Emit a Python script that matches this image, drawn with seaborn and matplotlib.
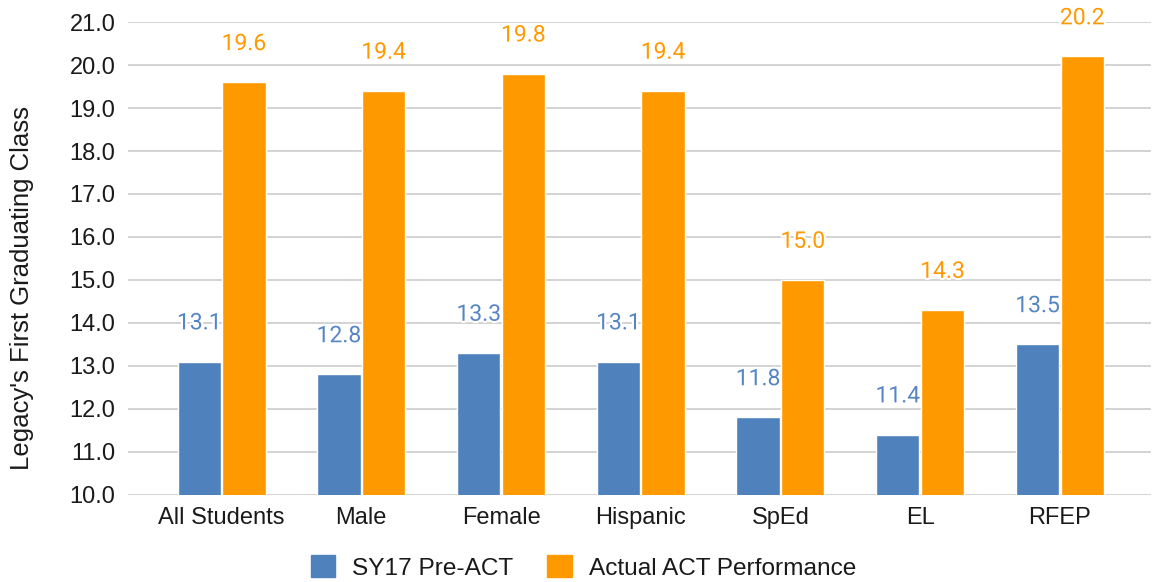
import matplotlib.pyplot as plt
import matplotlib.patheffects as pe
import pandas as pd
import seaborn as sns

# data
groups = ["All Students", "Male", "Female", "Hispanic", "SpEd", "EL", "RFEP"]
pre_act = [13.1, 12.8, 13.3, 13.1, 11.8, 11.4, 13.5]
actual_act = [19.6, 19.4, 19.8, 19.4, 15.0, 14.3, 20.2]
series = ["SY17 Pre-ACT", "Actual ACT Performance"]
colors = ["#4f81bd", "#ff9900"]

df = pd.DataFrame({
    "group": groups * 2,
    "score": pre_act + actual_act,
    "series": [series[0]] * len(groups) + [series[1]] * len(groups),
})

sns.set_theme(style="white")
plt.rcParams["font.family"] = ["Liberation Sans", "DejaVu Sans"]

fig, ax = plt.subplots(figsize=(11.53, 5.82), dpi=100)
fig.subplots_adjust(left=0.111, right=0.998, top=0.962, bottom=0.15)

sns.barplot(data=df, x="group", y="score", hue="series", palette=colors,
            width=0.64, gap=0.03, errorbar=None, saturation=1, ax=ax, legend=False)

ax.set_ylim(10, 21)
ax.set_xlim(-0.67, 6.65)
ax.set_yticks(range(10, 22))
ax.set_yticklabels([f"{v:.1f}" for v in range(10, 22)], fontsize=17, color="#1a1a1a")
ax.tick_params(axis="x", labelsize=17, colors="#1a1a1a", length=0, pad=9)
ax.tick_params(axis="y", length=0, pad=9)
ax.grid(axis="y", color="#cccccc", linewidth=1.2)
ax.set_axisbelow(True)
for s in ax.spines.values():
    s.set_visible(False)
ax.set_xlabel("")
ax.set_ylabel("")
fig.text(0.019, 0.505, "Legacy's First Graduating Class", rotation=90,
         ha="center", va="center", fontsize=18.5, color="#1a1a1a")

# value labels above bars
label_colors = ["#5585c5", "#ff9900"]
for container, col in zip(ax.containers, label_colors):
    for bar in container:
        h = bar.get_height()
        ax.text(bar.get_x() + bar.get_width() / 2, h + 0.9, f"{h:.1f}",
                ha="center", va="center", fontsize=16.5, color=col,
                family=["Roboto", "DejaVu Sans"],
                path_effects=[pe.withStroke(linewidth=3, foreground="white")])

handles = [plt.Rectangle((0, 0), 1, 1, color=c) for c in colors]
leg = fig.legend(handles, series, loc="center", bbox_to_anchor=(0.506, 0.025), ncol=2,
                 frameon=False, fontsize=17.6, handlelength=1.0, handleheight=1.0,
                 columnspacing=1.4, handletextpad=0.7, borderaxespad=0)
for t in leg.get_texts():
    t.set_color("#1a1a1a")

fig.savefig("out.png", dpi=100)
